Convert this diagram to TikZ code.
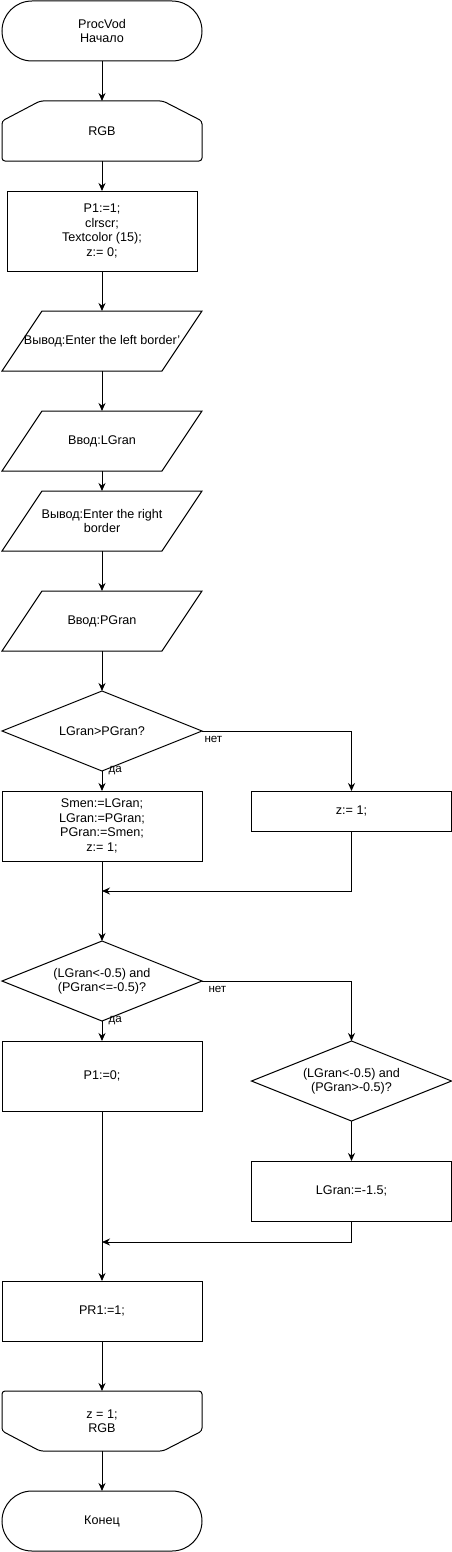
\documentclass[tikz,border=0pt]{standalone}
\usepackage{fontspec}
\setmainfont{Liberation Sans}
\usetikzlibrary{shapes.geometric}
\usetikzlibrary{arrows.meta}
\tikzset{
	every node/.style = {font=\fontsize{12.6}{14.5}\selectfont, align=center},
	termbox/.style = {draw, rectangle, rounded corners=30pt, minimum width=200pt, minimum height=60pt, outer sep=0pt},
	procbox/.style = {draw, rectangle, minimum width=200pt, minimum height=60pt, outer sep=0pt},
	slotbox/.style = {rectangle, minimum width=200pt, minimum height=60pt, inner sep=0pt, outer sep=0pt},
	decbox/.style = {draw, diamond, aspect=2.5, minimum width=200pt, minimum height=80pt, inner sep=0pt, outer sep=0pt},
	flow/.style = {-{Stealth[length=8pt, width=7pt]}},
	edgelabel/.style = {font=\fontsize{11.6}{13}\selectfont, inner sep=2pt}
}

\begin{document}
\begin{tikzpicture}[x=1pt, y=-1pt, line width=1pt]
		\useasboundingbox (0,0) rectangle (452,1552);
		% start
		\node[termbox] (start) at (102,31) {ProcVod\\Начало};
		\node[slotbox] (rgb) at (102,131) {RGB};
		\draw[rounded corners=3pt] ([xshift=38pt]rgb.north west) -- ([xshift=-39pt]rgb.north east) -- ([yshift=-20pt]rgb.north east) -- (rgb.south east) -- (rgb.south west) -- ([yshift=-20pt]rgb.north west) -- cycle;
		\node[procbox, minimum width=190pt, minimum height=80pt] (init) at (102,231) {P1:=1;\\clrscr;\\Textcolor (15);\\z:= 0;};
		% input / output
		\node[slotbox] (out1) at (102,341) {Вывод:Enter the left border'};
		\node[slotbox] (in1) at (102,441) {Ввод:LGran};
		\node[slotbox] (out2) at (102,521) {Вывод:Enter the right\\border};
		\node[slotbox] (in2) at (102,621) {Ввод:PGran};
		\foreach \io in {out1, in1, out2, in2}
			\draw ([xshift=40pt]\io.north west) -- (\io.north east) -- ([xshift=-40pt]\io.south east) -- (\io.south west) -- cycle;
		% first choice
		\node[decbox] (dec1) at (102,731) {LGran>PGran?};
		\node[procbox, minimum height=70pt] (swap) at (102,826) {Smen:=LGran;\\LGran:=PGran;\\PGran:=Smen;\\z:= 1;};
		\node[procbox, minimum height=40pt] (zone) at (351.5,811) {z:= 1;};
		\coordinate (join1) at (102,891);
		% second choice
		\node[decbox] (dec2) at (102,981) {(LGran<-0.5) and\\(PGran<=-0.5)?};
		\node[procbox, minimum height=70pt] (pnull) at (102,1076) {P1:=0;};
		\node[decbox] (dec3) at (351.5,1081) {(LGran<-0.5) and\\(PGran>-0.5)?};
		\node[procbox] (lgran) at (351.5,1191) {LGran:=-1.5;};
		\coordinate (join2) at (102,1242);
		% end
		\node[procbox] (prone) at (102,1311) {PR1:=1;};
		\node[slotbox] (rgbend) at (102,1421) {z = 1;\\RGB};
		\draw[rounded corners=3pt] (rgbend.north west) -- (rgbend.north east) -- ([yshift=20pt]rgbend.south east) -- ([xshift=-39pt]rgbend.south east) -- ([xshift=38pt]rgbend.south west) -- ([yshift=20pt]rgbend.south west) -- cycle;
		\node[termbox] (stop) at (102,1521) {Конец};
		% arrows
		\draw[flow] (start) -- (rgb);
		\draw[flow] (rgb) -- (init);
		\draw[flow] (init) -- (out1);
		\draw[flow] (out1) -- (in1);
		\draw[flow] (in1) -- (out2);
		\draw[flow] (out2) -- (in2);
		\draw[flow] (in2) -- (dec1);
		\draw[flow] (dec1.east) -| node[pos=0, anchor=north west, edgelabel, yshift=-3pt] {нет} (zone.north);
		\draw[flow] (dec1.south) -- node[pos=0, anchor=west, edgelabel, xshift=4pt] {да} (swap.north);
		\draw[flow] (zone.south) |- (join1);
		\draw[flow] (swap.south) -- (dec2.north);
		\draw[flow] (dec2.east) -| node[pos=0, anchor=north west, edgelabel, xshift=4pt, yshift=-3pt] {нет} (dec3.north);
		\draw[flow] (dec2.south) -- node[pos=0, anchor=west, edgelabel, xshift=4pt] {да} (pnull.north);
		\draw[flow] (dec3) -- (lgran);
		\draw[flow] (lgran.south) |- (join2);
		\draw[flow] (pnull.south) -- (prone.north);
		\draw[flow] (prone) -- (rgbend);
		\draw[flow] (rgbend) -- (stop);
	\end{tikzpicture}
\end{document}
